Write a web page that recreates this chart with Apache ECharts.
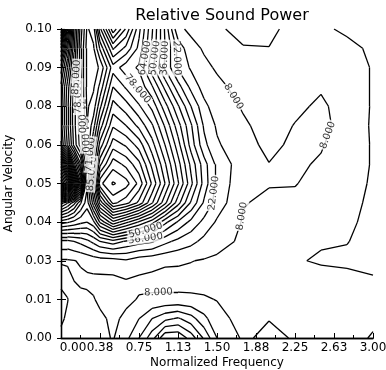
<!DOCTYPE html>
<html>
<head>
<meta charset="utf-8">
<script src="https://cdn.jsdelivr.net/npm/echarts@6/dist/echarts.min.js"></script>
<style>
  html, body { margin: 0; padding: 0; background: #fff; }
  #chart { width: 386px; height: 370px; }
</style>
</head>
<body>
<div id="chart"></div>
<script>
// grid of the measured field: normalized frequency (columns) x angular velocity (rows, top to bottom)
const freqGrid = [0, 0.0625, 0.125, 0.1875, 0.25, 0.3125, 0.375, 0.5, 0.625, 0.75, 0.875,
  1.0, 1.125, 1.25, 1.375, 1.5, 1.75, 2.0, 2.25, 2.5, 2.75, 3.0];
const velGrid = [0.1, 0.09375, 0.0875, 0.08125, 0.075, 0.06875, 0.0625, 0.05625, 0.05,
  0.04375, 0.0375, 0.03125, 0.025, 0.01875, 0.0125, 0.00625, 0];
const powerRows = [
  [220, 150, 105, 75, 56, 60, 90, 125, 105, 80, 58, 35, 9, 7, 7, 7.5, 9, 9, 6.5, 7, 9, 10],
  [175, 135, 100, 72, 54, 56, 72, 100, 90, 76, 56, 36, 20, 9.5, 7.5, 7, 7.8, 7.9, 6, 6, 6.5, 9],
  [145, 120, 95, 72, 54, 54, 58, 82, 74, 70, 52, 35, 21, 14, 9, 7.5, 6, 6, 6, 6, 6, 8.3],
  [132, 110, 90, 72, 55, 56, 66, 92, 84, 76, 65, 48, 32, 20, 12, 9, 6.5, 6, 6, 7.5, 6, 8.3],
  [130, 108, 88, 72, 56, 60, 76, 102, 95, 86, 76, 60, 44, 29, 17, 11, 7.5, 6, 7, 8.8, 6, 8.3],
  [130, 108, 88, 73, 57, 68, 88, 112, 106, 97, 86, 70, 53, 37, 21, 14, 8.8, 6, 8.2, 9, 6.5, 8.3],
  [135, 112, 90, 75, 58, 78, 102, 124, 119, 110, 95, 78, 60, 40, 24, 16, 9.5, 7, 8.8, 8.3, 6, 8.3],
  [220, 180, 130, 100, 62, 88, 118, 138, 132, 122, 104, 86, 67, 48, 32, 20, 11, 8.1, 8.6, 7.6, 6, 8.3],
  [260, 230, 180, 130, 66, 98, 139, 149, 144, 132, 112, 92, 72, 52, 33, 20, 10, 8.3, 8.2, 6.5, 6, 8.6],
  [110, 100, 88, 72, 60, 82, 108, 136, 130, 118, 100, 80, 60, 42, 28, 19, 8.3, 7, 7, 6, 6.5, 9],
  [60, 58, 55, 52, 50, 55, 72, 90, 80, 70, 60, 45, 35, 27, 20, 14, 7.5, 6, 6, 6, 7, 9.5],
  [20, 20, 22, 24, 27, 31, 36, 40, 35, 32, 30, 24, 20, 17, 13, 10, 7, 6, 6, 7.5, 7.8, 10],
  [7, 7.2, 7.8, 8.5, 9.5, 10.5, 11.5, 12, 14, 11, 10, 9, 8.8, 8.2, 7.5, 7, 6.5, 5.5, 7.5, 8.6, 9, 9.5],
  [12.5, 10, 7.9, 7, 7, 6.8, 6.5, 6.5, 7.8, 7, 6.5, 6, 6, 6, 6, 6, 6, 5.5, 5.5, 6, 6.5, 7.5],
  [18, 15.5, 10, 9.5, 9, 8.3, 7, 6.5, 7, 8.3, 8.8, 9.2, 9.2, 9, 8.6, 7.8, 6, 6, 6, 6, 6, 6.5],
  [17, 13, 10, 10, 9.8, 9.5, 9, 7, 9, 15, 22, 27, 30, 25, 17, 10, 6, 7.8, 6, 6, 6, 7],
  [12, 11, 10.5, 10.5, 10.5, 10.5, 10, 7.5, 13, 22, 33, 49, 49, 40, 28, 15, 7, 9.5, 7.5, 6, 6, 8.5],
];
const levelStart = 8;
const levelStep = 7;

const xTickLabels = ["0.00", "0.38", "0.75", "1.13", "1.50", "1.88", "2.25", "2.63", "3.00"];
const yTickLabels = ["0.00", "0.01", "0.03", "0.04", "0.05", "0.06", "0.08", "0.09", "0.10"];

// contour labels: level and roughly where on that contour it sits
const labelSpots = [
  { level: 8, near: [1.6, 0.08] },
  { level: 8, near: [2.52, 0.067] },
  { level: 8, near: [1.7, 0.038] },
  { level: 8, near: [0.92, 0.0135] },
  { level: 22, near: [1.45, 0.045] },
  { level: 22, near: [1.1, 0.09] },
  { level: 36, near: [1.0, 0.09] },
  { level: 50, near: [0.9, 0.09] },
  { level: 64, near: [0.82, 0.088] },
  { level: 78, near: [0.68, 0.08] },
  { level: 36, near: [0.85, 0.033] },
  { level: 50, near: [0.75, 0.035] },
  { level: 85, near: [0.3, 0.055] },
  { level: 71, near: [0.28, 0.062] },
  { level: 64, near: [0.22, 0.068] },
  { level: 71, near: [0.2, 0.074] },
  { level: 78, near: [0.18, 0.08] },
  { level: 85, near: [0.16, 0.086] },
];

/** marching squares on the rectilinear grid */
function contourSegments(level) {
  const segs = [];
  for (let j = 0; j < velGrid.length - 1; j++) {
    for (let i = 0; i < freqGrid.length - 1; i++) {
      const corners = [[i, j], [i + 1, j], [i + 1, j + 1], [i, j + 1]];
      const v = corners.map(([ci, cj]) => powerRows[cj][ci]);
      const hi = v.map((z) => z >= level);
      const edgePt = (k) => {
        const [i0, j0] = corners[k];
        const [i1, j1] = corners[(k + 1) % 4];
        const t = (level - v[k]) / (v[(k + 1) % 4] - v[k]);
        return [
          freqGrid[i0] + t * (freqGrid[i1] - freqGrid[i0]),
          velGrid[j0] + t * (velGrid[j1] - velGrid[j0]),
        ];
      };
      const cross = [0, 1, 2, 3].filter((k) => hi[k] !== hi[(k + 1) % 4]);
      if (cross.length === 2) {
        segs.push([edgePt(cross[0]), edgePt(cross[1])]);
      } else if (cross.length === 4) {
        const centerHi = (v[0] + v[1] + v[2] + v[3]) / 4 >= level;
        if (centerHi === hi[0]) {
          segs.push([edgePt(0), edgePt(1)], [edgePt(2), edgePt(3)]);
        } else {
          segs.push([edgePt(3), edgePt(0)], [edgePt(1), edgePt(2)]);
        }
      }
    }
  }
  return segs;
}

const maxPower = Math.max(...powerRows.flat());
const segsByLevel = {};
const lineData = [];
for (let level = levelStart; level < maxPower; level += levelStep) {
  const segs = contourSegments(level);
  segsByLevel[level] = segs;
  segs.forEach((s) => lineData.push({ coords: s }));
}

/** px per data unit, used to orient labels along the lines */
const pxX = 312 / 3;
const pxY = 309 / 0.1;

const labelData = labelSpots.map(({ level, near }) => {
  let best = null;
  let bestD = Infinity;
  (segsByLevel[level] || []).forEach(([a, b]) => {
    const mx = (a[0] + b[0]) / 2;
    const my = (a[1] + b[1]) / 2;
    const d = ((mx - near[0]) * pxX) ** 2 + ((my - near[1]) * pxY) ** 2;
    if (d < bestD) {
      bestD = d;
      best = { mx, my, a, b };
    }
  });
  if (!best) return null;
  let ang = (Math.atan2((best.b[1] - best.a[1]) * pxY, (best.b[0] - best.a[0]) * pxX) * 180) / Math.PI;
  if (ang > 90) ang -= 180;
  if (ang < -90) ang += 180;
  return {
    value: [best.mx, best.my],
    label: { rotate: ang, formatter: level.toFixed(3) },
  };
}).filter(Boolean);

const font = "DejaVu Sans";
const ink = "#000";

const chart = echarts.init(document.getElementById("chart"), null, { renderer: "canvas" });

chart.setOption({
  animation: false,
  backgroundColor: "#fff",
  title: {
    text: "Relative Sound Power",
    left: 217,
    top: 3,
    textAlign: "center",
    textStyle: { fontFamily: font, fontSize: 16, fontWeight: "normal", color: ink },
  },
  grid: { left: 61, right: 13, top: 29, bottom: 32, containLabel: false, outerBoundsMode: "none" },
  xAxis: [
    {
      type: "value",
      min: 0,
      max: 3,
      interval: 0.375,
      position: "bottom",
      axisLine: { show: true, lineStyle: { color: ink, width: 1.3 } },
      axisTick: { show: true, inside: true, length: 5, lineStyle: { color: ink } },
      minorTick: { show: true, splitNumber: 2, length: 3, lineStyle: { color: ink } },
      splitLine: { show: false },
      axisLabel: {
        fontFamily: font,
        fontSize: 12,
        color: ink,
        margin: 4,
        // first label sits to the right of the corner, as in the original plot
        formatter: (v) => {
          const i = Math.round(v / 0.375);
          return i === 0 ? "{first|" + xTickLabels[0] + "}" : xTickLabels[i];
        },
        rich: {
          first: { fontFamily: font, fontSize: 12, color: ink, padding: [0, 0, 0, 24] },
        },
      },
      name: "Normalized Frequency",
      nameLocation: "middle",
      nameGap: 19,
      nameMoveOverlap: false,
      nameTextStyle: { fontFamily: font, fontSize: 12, color: ink },
    },
    {
      type: "value",
      min: 0,
      max: 3,
      interval: 0.375,
      position: "top",
      axisLine: { show: true, lineStyle: { color: ink, width: 1.3 } },
      axisTick: { show: false },
      axisLabel: { show: false },
      splitLine: { show: false },
    },
  ],
  yAxis: [
    {
      type: "value",
      min: 0,
      max: 0.1,
      interval: 0.0125,
      position: "left",
      axisLine: { show: true, lineStyle: { color: ink, width: 1.3 } },
      axisTick: { show: true, inside: true, length: 5, lineStyle: { color: ink } },
      splitLine: { show: false },
      axisLabel: {
        fontFamily: font,
        fontSize: 12,
        color: ink,
        margin: 9,
        formatter: (v) => yTickLabels[Math.round(v / 0.0125)],
      },
      name: "Angular Velocity",
      nameLocation: "middle",
      nameGap: 42,
      nameRotate: 90,
      nameTextStyle: { fontFamily: font, fontSize: 12, color: ink },
    },
    {
      type: "value",
      min: 0,
      max: 0.1,
      interval: 0.0125,
      position: "right",
      axisLine: { show: true, lineStyle: { color: ink, width: 1.3 } },
      axisTick: { show: true, inside: true, length: 4, lineStyle: { color: ink } },
      axisLabel: { show: false },
      splitLine: { show: false },
    },
  ],
  series: [
    {
      type: "lines",
      coordinateSystem: "cartesian2d",
      polyline: false,
      silent: true,
      lineStyle: { color: ink, width: 1.3, opacity: 1 },
      data: lineData,
      z: 2,
    },
    {
      type: "scatter",
      symbolSize: 0,
      silent: true,
      z: 5,
      label: {
        show: true,
        position: "inside",
        fontFamily: font,
        fontSize: 10,
        color: ink,
        backgroundColor: "#fff",
        padding: [0, 1],
      },
      data: labelData,
    },
  ],
});
</script>
</body>
</html>
